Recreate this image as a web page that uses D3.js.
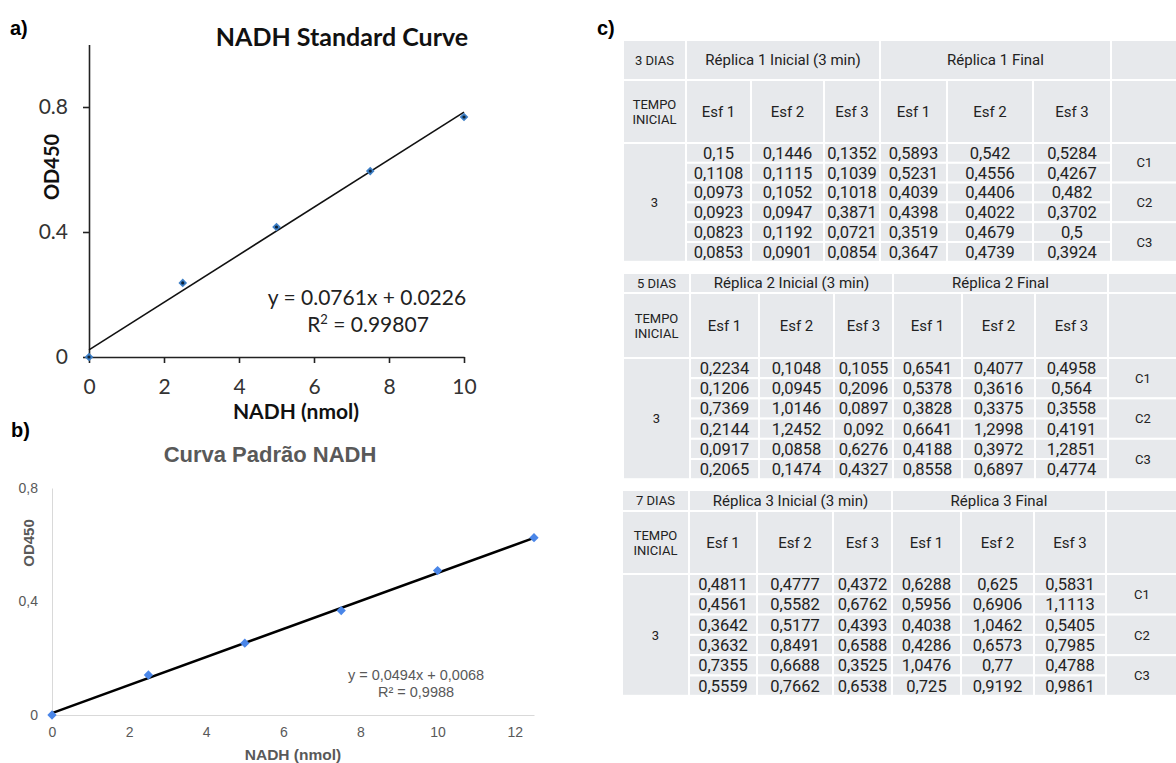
<!DOCTYPE html>
<html>
<head>
<meta charset="utf-8">
<script src="https://cdn.jsdelivr.net/npm/d3@7"></script>
<style>
  body { margin: 0; background: #fff; }
  svg { display: block; }
</style>
</head>
<body>
<div id="container"></div>
<script>
const w = 1176;
const h = 763;

// panel a
const nadhA = [0, 2.5, 5, 7.5, 10];
const odA = [0, 0.237, 0.416, 0.595, 0.768];
const fitA = [0.0761, 0.0226];
const ticksAx = [0, 2, 4, 6, 8, 10];
const ticksAy = [0, 0.4, 0.8];

// panel b
const nadhB = [0, 2.5, 5, 7.5, 10, 12.5];
const odB = [0, 0.141, 0.253, 0.368, 0.509, 0.625];
const fitB = [0.0494, 0.0068];
const ticksBx = [0, 2, 4, 6, 8, 10, 12];
const ticksBy = [0, 0.4, 0.8];

// panel c
const dias = ['3 DIAS', '5 DIAS', '7 DIAS'];
const replicaIni = ['Réplica 1 Inicial (3 min)', 'Réplica 2 Inicial (3 min)', 'Réplica 3 Inicial (3 min)'];
const replicaFin = ['Réplica 1 Final', 'Réplica 2 Final', 'Réplica 3 Final'];
const esf = ['Esf 1', 'Esf 2', 'Esf 3', 'Esf 1', 'Esf 2', 'Esf 3'];
const grupos = ['C1', 'C2', 'C3'];
const tempo = '3';
const val3 = [
  ['0,15', '0,1446', '0,1352', '0,5893', '0,542', '0,5284'],
  ['0,1108', '0,1115', '0,1039', '0,5231', '0,4556', '0,4267'],
  ['0,0973', '0,1052', '0,1018', '0,4039', '0,4406', '0,482'],
  ['0,0923', '0,0947', '0,3871', '0,4398', '0,4022', '0,3702'],
  ['0,0823', '0,1192', '0,0721', '0,3519', '0,4679', '0,5'],
  ['0,0853', '0,0901', '0,0854', '0,3647', '0,4739', '0,3924']
];
const val5 = [
  ['0,2234', '0,1048', '0,1055', '0,6541', '0,4077', '0,4958'],
  ['0,1206', '0,0945', '0,2096', '0,5378', '0,3616', '0,564'],
  ['0,7369', '1,0146', '0,0897', '0,3828', '0,3375', '0,3558'],
  ['0,2144', '1,2452', '0,092', '0,6641', '1,2998', '0,4191'],
  ['0,0917', '0,0858', '0,6276', '0,4188', '0,3972', '1,2851'],
  ['0,2065', '0,1474', '0,4327', '0,8558', '0,6897', '0,4774']
];
const val7 = [
  ['0,4811', '0,4777', '0,4372', '0,6288', '0,625', '0,5831'],
  ['0,4561', '0,5582', '0,6762', '0,5956', '0,6906', '1,1113'],
  ['0,3642', '0,5177', '0,4393', '0,4038', '1,0462', '0,5405'],
  ['0,3632', '0,8491', '0,6588', '0,4286', '0,6573', '0,7985'],
  ['0,7355', '0,6688', '0,3525', '1,0476', '0,77', '0,4788'],
  ['0,5559', '0,7662', '0,6538', '0,725', '0,9192', '0,9861']
];

const svg = d3.select('#container')
  .append('svg')
  .attr('width', w)
  .attr('height', h)
  .attr('viewBox', [0, 0, w, h]);

const label = (x, y, t, size, opts = {}) => svg.append('text')
  .attr('x', x)
  .attr('y', y)
  .attr('font-family', opts.font || 'Liberation Sans, Arial, sans-serif')
  .attr('font-size', size)
  .attr('font-weight', opts.bold ? 'bold' : 'normal')
  .attr('fill', opts.fill || '#000')
  .attr('text-anchor', opts.anchor || 'start')
  .text(t);

// ---------- a) ----------
const xa = d3.scaleLinear().domain([0, 10]).range([89, 464]);
const ya = d3.scaleLinear().domain([0, 1]).range([357, 44.5]);
const fontA = 'Lato, Carlito, Calibri, sans-serif';

label(10, 35, 'a)', 20, { bold: true });
label(342, 46, 'NADH Standard Curve', 25, { bold: true, anchor: 'middle', font: fontA, fill: '#111' });

const axA = svg.append('g')
  .attr('transform', 'translate(0,' + ya(0) + ')')
  .call(d3.axisBottom(xa).tickValues(ticksAx).tickSize(6).tickSizeOuter(0).tickPadding(16));
const ayA = svg.append('g')
  .attr('transform', 'translate(' + xa(0) + ',0)')
  .call(d3.axisLeft(ya).tickValues(ticksAy).tickSize(6).tickSizeOuter(0).tickPadding(15)
    .tickFormat(d => d === 0 ? '0' : d3.format('.1f')(d)));
[axA, ayA].forEach(g => {
  g.selectAll('path, line').attr('stroke', '#222').attr('stroke-width', 1.6);
  g.selectAll('text').attr('font-family', fontA).attr('font-size', 21).attr('fill', '#333');
});

svg.append('text')
  .attr('transform', 'translate(59,167) rotate(-90)')
  .attr('text-anchor', 'middle')
  .attr('font-family', fontA)
  .attr('font-size', 20)
  .attr('font-weight', 'bold')
  .attr('fill', '#111')
  .text('OD450');
label(296, 419, 'NADH (nmol)', 21, { bold: true, anchor: 'middle', font: fontA, fill: '#111' });

svg.append('line')
  .attr('x1', xa(0)).attr('y1', ya(fitA[1]))
  .attr('x2', xa(10)).attr('y2', ya(fitA[0] * 10 + fitA[1]))
  .attr('stroke', '#111').attr('stroke-width', 1.6);

svg.append('g').selectAll('path')
  .data(nadhA.map((x, i) => [x, odA[i]]))
  .join('path')
  .attr('d', d3.symbol(d3.symbolDiamond2, 48))
  .attr('transform', d => 'translate(' + xa(d[0]) + ',' + ya(d[1]) + ')')
  .attr('fill', '#3d7fc6');
svg.append('g').selectAll('circle')
  .data(nadhA.map((x, i) => [x, odA[i]]))
  .join('circle')
  .attr('cx', d => xa(d[0]))
  .attr('cy', d => ya(d[1]))
  .attr('r', 1.6)
  .attr('fill', '#0d2238');

label(367, 305, 'y = 0.0761x + 0.0226', 21, { anchor: 'middle', font: fontA, fill: '#222' });
const r2a = label(368, 332, '', 21, { anchor: 'middle', font: fontA, fill: '#222' });
r2a.append('tspan').text('R');
r2a.append('tspan').attr('dy', -8).attr('font-size', 13).text('2');
r2a.append('tspan').attr('dy', 8).text(' = 0.99807');

// ---------- b) ----------
const xb = d3.scaleLinear().domain([0, 12.5]).range([52, 534]);
const yb = d3.scaleLinear().domain([0, 0.8]).range([715, 488]);
const grayB = '#595959';

label(11, 437, 'b)', 20, { bold: true });
label(270, 462, 'Curva Padrão NADH', 22, { bold: true, anchor: 'middle', fill: grayB });

const axB = svg.append('g')
  .attr('transform', 'translate(0,' + yb(0) + ')')
  .call(d3.axisBottom(xb).tickValues(ticksBx).tickSize(0).tickPadding(12));
const ayB = svg.append('g')
  .attr('transform', 'translate(' + xb(0) + ',0)')
  .call(d3.axisLeft(yb).tickValues(ticksBy).tickSize(0).tickPadding(14)
    .tickFormat(d => d === 0 ? '0' : d3.format('.1f')(d).replace('.', ',')));
[axB, ayB].forEach(g => {
  g.selectAll('path').attr('stroke', '#d9d9d9').attr('stroke-width', 1);
  g.selectAll('text').attr('font-family', 'Liberation Sans, Arial, sans-serif').attr('font-size', 14).attr('fill', grayB);
});

svg.append('text')
  .attr('transform', 'translate(34,543) rotate(-90)')
  .attr('text-anchor', 'middle')
  .attr('font-family', 'Liberation Sans, Arial, sans-serif')
  .attr('font-size', 15)
  .attr('font-weight', 'bold')
  .attr('fill', grayB)
  .text('OD450');
label(293, 760, 'NADH (nmol)', 15.5, { bold: true, anchor: 'middle', fill: grayB });

svg.append('line')
  .attr('x1', xb(0)).attr('y1', yb(fitB[1]))
  .attr('x2', xb(12.5)).attr('y2', yb(fitB[0] * 12.5 + fitB[1]))
  .attr('stroke', '#000').attr('stroke-width', 2.5);

svg.append('g').selectAll('path')
  .data(nadhB.map((x, i) => [x, odB[i]]))
  .join('path')
  .attr('d', d3.symbol(d3.symbolDiamond2, 55))
  .attr('transform', d => 'translate(' + xb(d[0]) + ',' + yb(d[1]) + ')')
  .attr('fill', '#4a86e8');

label(416, 680, 'y = 0,0494x + 0,0068', 14.5, { anchor: 'middle', fill: grayB });
label(416, 697, 'R² = 0,9988', 14.5, { anchor: 'middle', fill: grayB });

// ---------- c) ----------
label(597, 35, 'c)', 20, { bold: true });

const tables = [
  { vals: val3, top: 40, h1: 40, h2: 63, rh: 19.8, cols: [623, 686, 751, 824, 880, 947, 1033, 1111, 1178] },
  { vals: val5, top: 273, h1: 20, h2: 65, rh: 20.2, cols: [623, 690, 759, 834, 893, 962, 1035, 1108, 1178] },
  { vals: val7, top: 490, h1: 21, h2: 63, rh: 20.3, cols: [622, 689, 757, 833, 892, 961, 1034, 1106, 1178] }
];
const fontC = 'Roboto, Inter, sans-serif';
const cellFill = '#e7e9ec';

tables.forEach((t, ti) => {
  const g = svg.append('g');
  const c = t.cols;
  const cells = [];
  const y1 = t.top + t.h1;
  const y2 = y1 + t.h2;
  cells.push({ x0: c[0], x1: c[1], y0: t.top, y1: y1, txt: [dias[ti]], fs: 13 });
  cells.push({ x0: c[1], x1: c[4], y0: t.top, y1: y1, txt: [replicaIni[ti]], fs: 15 });
  cells.push({ x0: c[4], x1: c[7], y0: t.top, y1: y1, txt: [replicaFin[ti]], fs: 15 });
  cells.push({ x0: c[7], x1: c[8], y0: t.top, y1: y1, txt: [] });
  cells.push({ x0: c[0], x1: c[1], y0: y1, y1: y2, txt: ['TEMPO', 'INICIAL'], fs: 13 });
  esf.forEach((e, j) => cells.push({ x0: c[j + 1], x1: c[j + 2], y0: y1, y1: y2, txt: [e], fs: 15 }));
  cells.push({ x0: c[7], x1: c[8], y0: y1, y1: y2, txt: [] });
  const yEnd = y2 + t.rh * 6;
  cells.push({ x0: c[0], x1: c[1], y0: y2, y1: yEnd, txt: [tempo], fs: 13 });
  t.vals.forEach((row, r) => {
    row.forEach((v, j) => cells.push({
      x0: c[j + 1], x1: c[j + 2], y0: y2 + r * t.rh, y1: y2 + (r + 1) * t.rh, txt: [v], fs: 16.5
    }));
  });
  grupos.forEach((gname, k) => cells.push({
    x0: c[7], x1: c[8], y0: y2 + k * 2 * t.rh, y1: y2 + (k + 1) * 2 * t.rh, txt: [gname], fs: 13
  }));

  g.selectAll('rect')
    .data(cells)
    .join('rect')
    .attr('x', d => d.x0)
    .attr('y', d => d.y0)
    .attr('width', d => d.x1 - d.x0)
    .attr('height', d => d.y1 - d.y0)
    .attr('fill', cellFill)
    .attr('stroke', '#fff')
    .attr('stroke-width', 2);

  cells.forEach(d => {
    const n = d.txt.length;
    d.txt.forEach((s, k) => {
      g.append('text')
        .attr('x', (d.x0 + d.x1) / 2)
        .attr('y', (d.y0 + d.y1) / 2 + (k - (n - 1) / 2) * 15)
        .attr('dy', '0.36em')
        .attr('text-anchor', 'middle')
        .attr('font-family', fontC)
        .attr('font-size', d.fs)
        .attr('fill', '#222')
        .text(s);
    });
  });
});
</script>
</body>
</html>
